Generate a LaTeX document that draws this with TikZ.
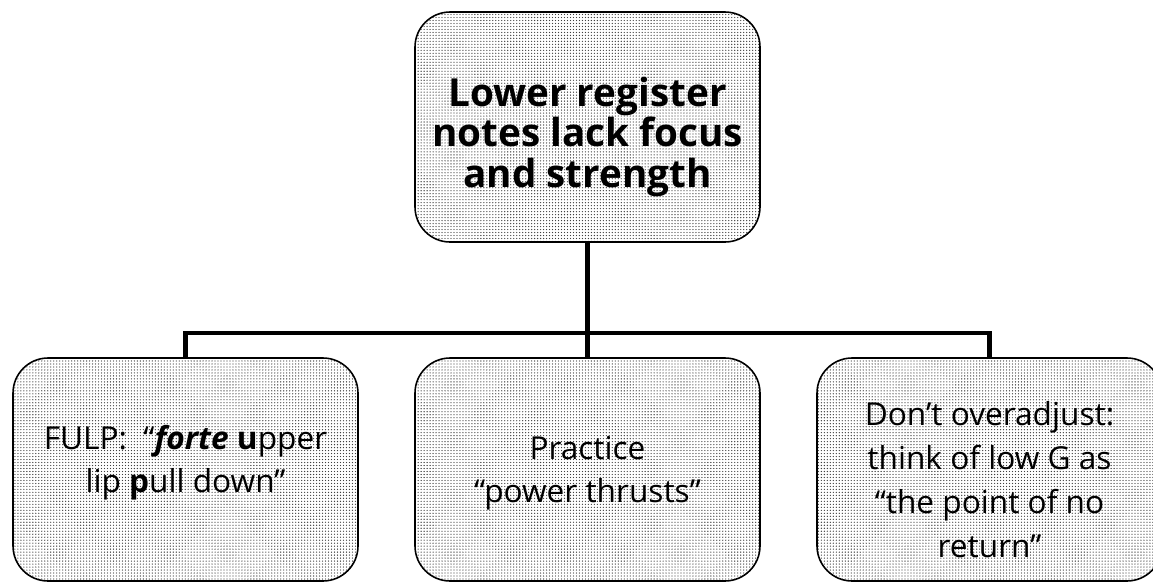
\documentclass[tikz,border=0pt]{standalone}
\usepackage{fontspec}
\setmainfont{Open Sans}
\usetikzlibrary{patterns.meta}

\tikzdeclarepattern{
  name=finedots,
  type=uncolored,
  bounding box={(-0.85pt,-0.85pt) and (0.85pt,0.85pt)},
  tile size={(1.7pt,1.7pt)},
  code={\fill (0,0) circle (0.38pt);}
}

\tikzset{
  card/.style={draw, line width=0.9pt, rounded corners=20pt, pattern=finedots, pattern color=black!75,
    minimum width=345*0.02cm, align=center},
  link/.style={line width=2.3pt}
}

\begin{document}
\begin{tikzpicture}[x=0.02cm, y=-0.02cm]
\clip (0,0) rectangle (1153,582);

% Problem
\node[card, minimum height=230*0.02cm, font=\fontsize{22}{23}\selectfont\bfseries] (top) at (587.5,127)
  {\rule{0pt}{28pt}Lower register\\notes lack focus\\and strength};

% Remedies
\node[card, minimum height=223*0.02cm, font=\fontsize{18}{24.5}\selectfont] (fulp) at (185.5,469.5)
  {FULP:\ \ “\textbf{\textit{forte}} \textbf{u}pper\\lip \textbf{p}ull down”\rule[-12pt]{0pt}{0pt}};
\node[card, minimum height=223*0.02cm, font=\fontsize{18}{24.5}\selectfont] (practice) at (587.5,469.5)
  {\rule{0pt}{17pt}Practice\\“power thrusts”};
\node[card, minimum height=223*0.02cm, font=\fontsize{18}{25}\selectfont] (adjust) at (989.5,469.5)
  {\rule{0pt}{25pt}Don’t overadjust:\\think of low G as\\“the point of no\\return”};

% Connectors
\coordinate (bar) at (0,333);
\draw[link] (top.south) -- (top.south |- bar);
\draw[link] (fulp.north) -- (fulp.north |- bar) -- (adjust.north |- bar) -- (adjust.north);
\draw[link] (practice.north) -- (practice.north |- bar);
\end{tikzpicture}
\end{document}
